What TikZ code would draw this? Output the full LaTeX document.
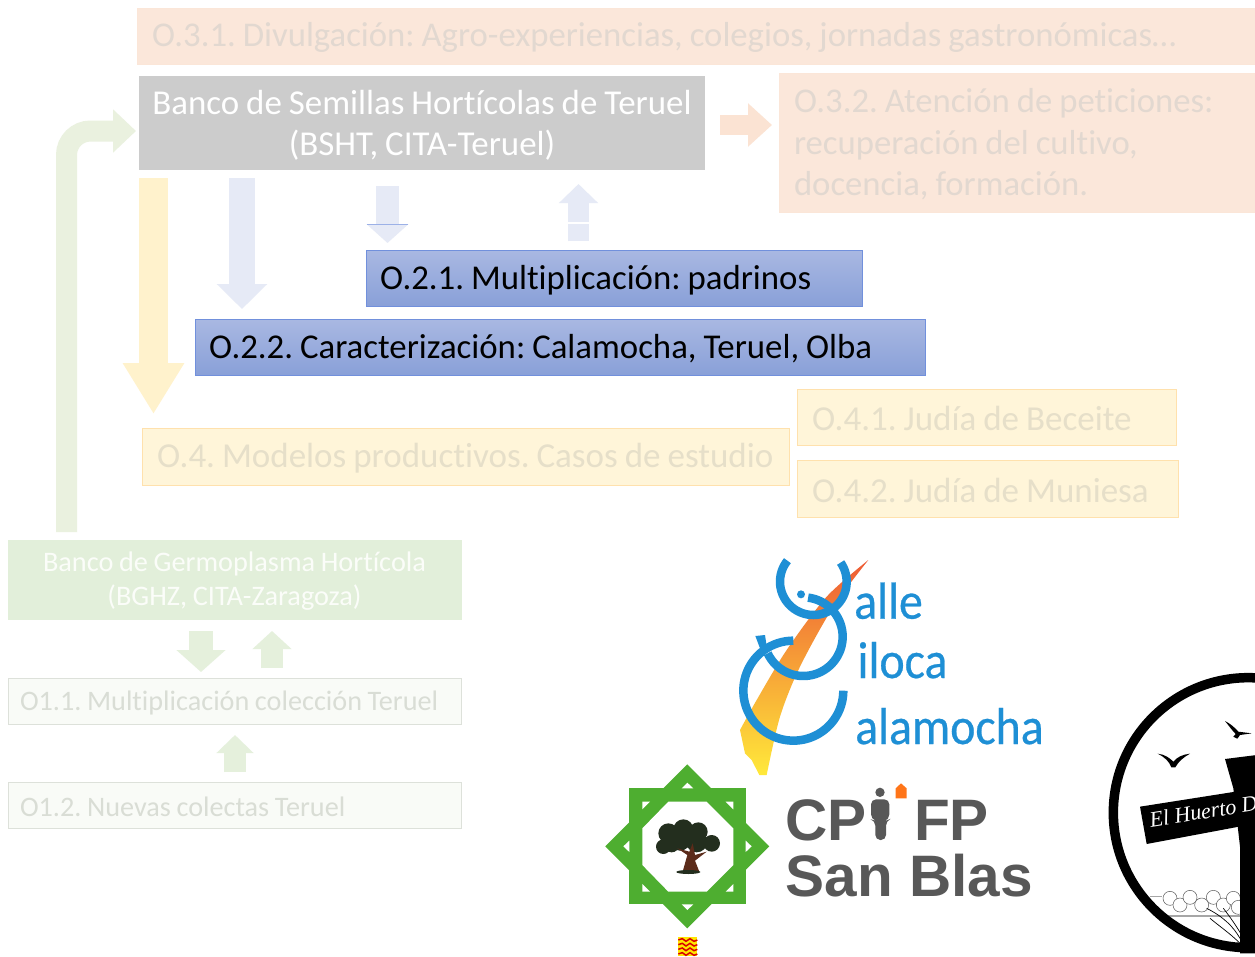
\documentclass[tikz,border=0pt]{standalone}
\usepackage{fontspec}
\setmainfont{Carlito}[Ligatures=NoCommon]
\newfontfamily\arialf{Liberation Sans}
\newfontfamily\signf{Liberation Serif}
\newfontfamily\vallef{Carlito}[FakeBold=0.5,FakeStretch=0.92]
\usetikzlibrary{arrows.meta}
\definecolor{peachfill}{HTML}{FBE7DA}
\definecolor{peachtext}{HTML}{E2D8D0}
\definecolor{peacharrow}{HTML}{FBE3D3}
\definecolor{yellowfill}{HTML}{FFF5D9}
\definecolor{yellowtext}{HTML}{E6DFC9}
\definecolor{yellowarrow}{HTML}{FFF2CC}
\definecolor{bluearrow}{HTML}{E6EAF6}
\definecolor{greenfill}{HTML}{E2EFDA}
\definecolor{greenarrow}{HTML}{E5F0DC}
\definecolor{elbowgreen}{HTML}{EAF1DF}
\definecolor{paletext}{HTML}{D9DDD5}
\definecolor{paleedge}{HTML}{DDE1DA}
\definecolor{palefill}{HTML}{F9FBF7}
\definecolor{logoblue}{HTML}{1E8FD5}
\definecolor{logogreen}{HTML}{4EAE30}
\definecolor{logogray}{HTML}{585858}
\definecolor{A5top}{HTML}{A9B8E2}
\definecolor{A5bot}{HTML}{89A0D8}
\definecolor{A5edge}{HTML}{7190DC}
\definecolor{treedark}{HTML}{232E1E}
\definecolor{treebrown}{HTML}{5B2B1A}
\definecolor{swtop}{HTML}{EE5B35}
\definecolor{swmid}{HTML}{F7A040}
\definecolor{swbot}{HTML}{FFE93A}
\tikzset{
  x=1pt,y=-1pt,
  box/.style={anchor=north west,inner ysep=0pt,inner xsep=15pt,outer sep=0pt,align=left,execute at begin node={\frenchspacing\spaceskip=.2em\rule{0pt}{.8em}}},
  peachbox/.style={box,fill=peachfill,draw=peachfill!70!peacharrow,text=peachtext,font=\fontsize{34.7}{41.5}\selectfont},
  greybox/.style={box,fill=black!20,text=white,align=center,font=\fontsize{34.9}{41}\selectfont},
  bluebox/.style={box,draw=A5edge,top color=A5top,bottom color=A5bot,text=black,font=\fontsize{34.8}{38}\selectfont,line width=.7pt},
  yellowbox/.style={box,fill=yellowfill,draw=yellowarrow!85!orange,text=yellowtext,font=\fontsize{35}{38}\selectfont},
  greenbox/.style={box,fill=greenfill,draw=greenfill,text=white!85!greenfill,align=center,font=\fontsize{28.3}{34}\selectfont},
  outlinebox/.style={box,fill=palefill,draw=paleedge,text=paletext,inner xsep=12pt,font=\fontsize{28.2}{32}\selectfont},
  blockarrow/.style n args={4}{draw=#1,line width=#2pt,-{Triangle[length=#3pt,width=#4pt,fill=#1]}},
  valle/.style={anchor=base west,text=logoblue,inner sep=0pt,font=\vallef\fontsize{52}{52}\selectfont},
  cpi/.style={anchor=base west,text=logogray,inner sep=0pt,font=\arialf\bfseries\fontsize{58.5}{58.5}\selectfont},
  ring/.style={draw=logoblue,line width=8.5pt},
}
\begin{document}
\begin{tikzpicture}
\path[use as bounding box,clip] (0,0) rectangle (1255,956);
\fill[white] (0,0) rectangle (1255,956);

% --- boxes
\node[peachbox,minimum width=1140pt,minimum height=56pt,text width=1110pt] (o31) at (137,8) {O.3.1. Divulgación: Agro-experiencias, colegios, jornadas gastronómicas…};
\node[greybox,minimum width=566pt,minimum height=94pt,text width=556pt,inner xsep=5pt] (bsht) at (139,76) {Banco de Semillas Hortícolas de Teruel\\(BSHT, CITA-Teruel)};
\node[peachbox,minimum width=490pt,minimum height=139pt,text width=460pt] (o32) at (779,73) {O.3.2. Atención de peticiones:\\recuperación del cultivo,\\docencia, formación.};
\node[bluebox,minimum width=496pt,minimum height=56pt,text width=468pt,inner xsep=14pt] (o21) at (366,250) {O.2.1. Multiplicación: padrinos};
\node[bluebox,minimum width=730pt,minimum height=56pt,text width=702pt,inner xsep=14pt] (o22) at (195,319) {O.2.2. Caracterización: Calamocha, Teruel, Olba};
\node[yellowbox,minimum width=647pt,minimum height=57pt,text width=637pt,inner xsep=5pt] (o4) at (142,428) {\hspace*{10pt}O.4. Modelos productivos. Casos de estudio};
\node[yellowbox,minimum width=379pt,minimum height=56pt,text width=349pt] (o41) at (797,389) {O.4.1. Judía de Beceite};
\node[yellowbox,minimum width=381pt,minimum height=57pt,text width=351pt] (o42) at (797,460) {O.4.2. Judía de Muniesa};
\node[greenbox,minimum width=453pt,minimum height=79pt,text width=423pt] (bghz) at (8,540) {Banco de Germoplasma Hortícola\\(BGHZ, CITA-Zaragoza)};
\node[outlinebox,minimum width=453pt,minimum height=46pt,text width=429pt] (o11) at (8,678) {O1.1. Multiplicación colección Teruel};
\node[outlinebox,minimum width=453pt,minimum height=46pt,text width=429pt] (o12) at (8,782) {O1.2. Nuevas colectas Teruel};

% --- block arrows
\coordinate (a1s) at (720,125); \coordinate (a1e) at (772,125);
\draw[blockarrow={peacharrow}{20}{24}{42}] (a1s) -- (a1e);
\coordinate (a2s) at (153.5,178); \coordinate (a2e) at (153.5,414);
\draw[blockarrow={yellowarrow}{29}{51}{58}] (a2s) -- (a2e);
\coordinate (a3s) at (242,178); \coordinate (a3e) at (242,309);
\draw[blockarrow={bluearrow}{26}{25}{49}] (a3s) -- (a3e);
\coordinate (a4s) at (387.5,186); \coordinate (a4e) at (387.5,243);
\draw[blockarrow={bluearrow}{23}{19}{41}] (a4s) -- (a4e);
\draw[A5edge!70!white,line width=.7pt] (367,224) -- (408,224);
\coordinate (a5s) at (578.5,241); \coordinate (a5e) at (578.5,184);
\draw[blockarrow={bluearrow}{21}{19}{38}] (a5s) -- (a5e);
\draw[white,line width=2pt] (568,223) -- (589,223);
\coordinate (a6s) at (66.5,532); \coordinate (a6e) at (136,131);
\draw[blockarrow={elbowgreen}{21}{23}{42},rounded corners=24pt] (a6s) |- (a6e);
\coordinate (a7s) at (201,631); \coordinate (a7e) at (201,672);
\draw[blockarrow={greenarrow}{24}{22}{48}] (a7s) -- (a7e);
\coordinate (a8s) at (272,668); \coordinate (a8e) at (272,631);
\draw[blockarrow={greenarrow}{22}{18}{38}] (a8s) -- (a8e);
\coordinate (a9s) at (235,772); \coordinate (a9e) at (235,735);
\draw[blockarrow={greenarrow}{22}{18}{36}] (a9s) -- (a9e);

% --- Valle Jiloca Calamocha logo
\begin{scope}[shift={(600,540)},scale=0.33333]
\shade[top color=swtop,middle color=swmid,bottom color=swbot]
  plot[smooth] coordinates {(805,60) (680,170) (560,330) (470,480) (420,570)}
  -- (435,640) -- (455,660) -- (478,705) -- (500,705)
  -- plot[smooth] coordinates {(500,705) (540,530) (600,380) (700,200) (805,60)} -- cycle;
\draw[ring] plot[domain=141:395,samples=50] ({640+100*cos(\x)},{125-100*sin(\x)});
\draw[ring] plot[domain=-155:83,samples=50] ({610+118*cos(\x)},{290-118*sin(\x)});
\draw[ring] plot[domain=90:360,samples=60] ({580+150*cos(\x)},{452-150*sin(\x)});
\fill[logoblue] (603,163) circle (12);
\fill[logoblue] (466,288) -- (495,285) -- (500,318) -- (480,325) -- cycle;
\node[valle] (vall) at (762,236) {alle};
\node[valle] (ilo) at (772,414) {iloca};
\node[valle] (cal) at (765,612) {alamocha};

% --- CPIFP San Blas logo
\fill[logogreen] (88,745) rectangle (437,1093);
\fill[logogreen] (262,673) -- (508,919) -- (262,1165) -- (16,919) -- cycle;
\fill[white] (205,785) -- (320,785) -- (400,865) -- (400,975) -- (320,1055) -- (205,1055) -- (127,975) -- (127,865) -- cycle;
\fill[white] (262,728) -- (245,745) -- (280,745) -- cycle;
\fill[white] (262,1110) -- (245,1093) -- (280,1093) -- cycle;
\fill[white] (437,902) -- (455,919) -- (437,936) -- cycle;
\fill[white] (88,902) -- (70,919) -- (88,936) -- cycle;
\fill[white] (127,785) -- (150,785) -- (127,808) -- cycle;
\fill[white] (400,785) -- (377,785) -- (400,808) -- cycle;
\fill[white] (127,1055) -- (150,1055) -- (127,1032) -- cycle;
\fill[white] (400,1055) -- (377,1055) -- (400,1032) -- cycle;
\foreach \cx/\cy/\r in {205/880/30,250/868/30,295/875/28,335/910/25,190/920/22,240/900/32,290/905/32,215/915/22}
  \fill[treedark] (\cx,\cy) circle (\r);
\fill[treebrown] (248,995) -- (262,945) -- (232,925) -- (268,935) -- (278,910) -- (285,945) -- (320,935) -- (285,962) -- (298,995) -- cycle;
\fill[treedark] (265,996) ellipse (36 and 6);
\node[cpi] (cp) at (556,900) {CP};
\fill[logogray] (840,757) circle (14);
\fill[logogray,rounded corners=5pt] (813,778) -- (868,778) -- (868,838) -- (858,842) -- (858,900) -- (826,900) -- (826,842) -- (813,838) -- cycle;
\fill[orange!80!red!90!white] (887,775) -- (887,745) -- (903,730) -- (920,745) -- (920,775) -- cycle;
\node[cpi] (fp) at (942,900) {FP};
\node[cpi] (sb) at (556,1068) {San Blas};
\fill[yellow!90!orange] (235,1192) rectangle (292,1248);
\foreach \yy in {1200,1214,1228,1242}
  \draw[red!85!black,line width=1.5pt] plot coordinates {(235,\yy) (247,\yy-4) (258,\yy+4) (270,\yy-4) (282,\yy+4) (292,\yy)};
\end{scope}

% --- El Huerto logo
\begin{scope}[shift={(1090,660)},scale=0.33333]
\foreach \cx/\cy in {240/715,270/735,300/712,335/735,370/712,400/735,430/715,445/742}
  \draw[black!65,fill=white,line width=.5pt] (\cx,\cy) circle (21);
\draw[black!35,line width=1.3pt] (180,710) -- (215,710);
\draw[black!35,line width=1.3pt] (215,768) -- (450,768);
\draw[black,line width=.7pt] (350,745) .. controls (400,770) and (430,800) .. (450,835);
\draw[black,line width=.7pt] (360,775) .. controls (390,800) and (420,820) .. (450,850);
\draw[black,line width=.7pt] (400,745) .. controls (420,770) and (440,800) .. (455,825);
\draw[black,line width=9.5pt] (475,458) circle (405);
\fill[black] (405,297) -- (500,285) -- (500,880) -- (450,880) -- (450,560) -- (430,385) -- cycle;
\fill[black] (150,440) -- (500,385) -- (500,490) -- (170,552) -- cycle;
\node[rotate=9,anchor=base west,text=white,inner sep=0pt,font=\signf\itshape\fontsize{22}{22}\selectfont] (sign) at (182,502) {El Huerto D};
\fill[black] (203,281) .. controls (225,283) and (240,295) .. (250,305) .. controls (260,292) and (278,283) .. (300,281) .. controls (280,292) and (265,305) .. (256,322) -- (244,322) .. controls (238,305) and (225,292) .. cycle;
\fill[black] (405,183) .. controls (420,190) and (437,205) .. (445,215) -- (485,220) -- (450,225) -- (442,236) -- (430,230) -- (437,222) .. controls (425,210) and (415,195) .. cycle;
\end{scope}
\end{tikzpicture}
\end{document}
